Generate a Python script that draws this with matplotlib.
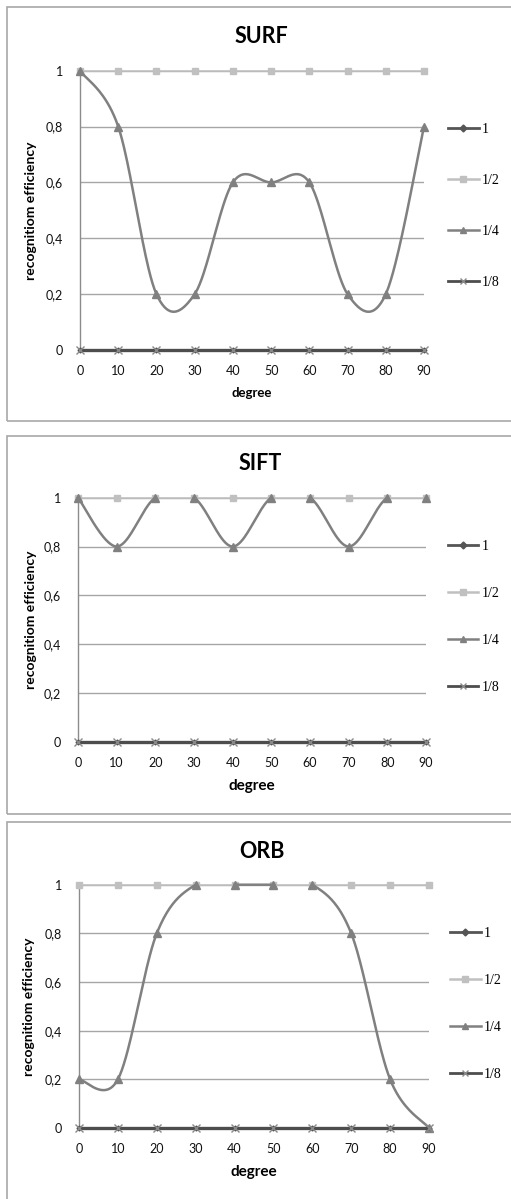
import numpy as np
import matplotlib
matplotlib.use("Agg")
import matplotlib.pyplot as plt
from matplotlib.lines import Line2D
from matplotlib.patches import Rectangle

degrees = [0, 10, 20, 30, 40, 50, 60, 70, 80, 90]
series_labels = ["1", "1/2", "1/4", "1/8"]

surf_1 = [0, 0, 0, 0, 0, 0, 0, 0, 0, 0]
surf_half = [1, 1, 1, 1, 1, 1, 1, 1, 1, 1]
surf_quarter = [1, 0.8, 0.2, 0.2, 0.6, 0.6, 0.6, 0.2, 0.2, 0.8]
surf_eighth = [0, 0, 0, 0, 0, 0, 0, 0, 0, 0]

sift_1 = [0, 0, 0, 0, 0, 0, 0, 0, 0, 0]
sift_half = [1, 1, 1, 1, 1, 1, 1, 1, 1, 1]
sift_quarter = [1, 0.8, 1, 1, 0.8, 1, 1, 0.8, 1, 1]
sift_eighth = [0, 0, 0, 0, 0, 0, 0, 0, 0, 0]

orb_1 = [0, 0, 0, 0, 0, 0, 0, 0, 0, 0]
orb_half = [1, 1, 1, 1, 1, 1, 1, 1, 1, 1]
orb_quarter = [0.2, 0.2, 0.8, 1, 1, 1, 1, 0.8, 0.2, 0]
orb_eighth = [0, 0, 0, 0, 0, 0, 0, 0, 0, 0]

yticks = [0, 0.2, 0.4, 0.6, 0.8, 1]
ytick_labels = ["0", "0,2", "0,4", "0,6", "0,8", "1"]

W, H = 511, 1199
fig = plt.figure(figsize=(W / 100, H / 100), dpi=100)
fig.patch.set_facecolor("white")

SANS = ["Lato", "DejaVu Sans"]
SERIF = ["Liberation Serif", "DejaVu Serif"]

def smooth(xs, ys, n=40, ymax=1.0):
    """Excel-like smoothed line (cubic Bezier); segments leaving the plot area are dropped."""
    xs = np.asarray(xs, float)
    ys = np.asarray(ys, float)
    px = np.concatenate([[xs[0]], xs, [xs[-1]]])
    py = np.concatenate([[ys[0]], ys, [ys[-1]]])
    outx, outy = [], []
    t = np.linspace(0, 1, n)
    for i in range(1, len(px) - 2):
        p0 = np.array([px[i], py[i]])
        p3 = np.array([px[i + 1], py[i + 1]])
        c1 = p0 + (np.array([px[i + 1], py[i + 1]]) - np.array([px[i - 1], py[i - 1]])) / 6
        c2 = p3 - (np.array([px[i + 2], py[i + 2]]) - np.array([px[i], py[i]])) / 6
        b = ((1 - t) ** 3)[:, None] * p0 + (3 * (1 - t) ** 2 * t)[:, None] * c1 \
            + (3 * (1 - t) * t ** 2)[:, None] * c2 + (t ** 3)[:, None] * p3
        if b[:, 1].max() > ymax + 1e-9:
            outx.append(np.nan)
            outy.append(np.nan)
            continue
        outx.extend(b[:, 0])
        outy.extend(b[:, 1])
    return np.array(outx), np.array(outy)

C1 = "#555555"
C2 = "#c0c0c0"
C4 = "#808080"
C8 = "#4d4d4d"

panels = [
    dict(title="SURF", data=(surf_1, surf_half, surf_quarter, surf_eighth),
         box=(7, 7, 421), ax=(80, 424, 70.7, 350),
         ylab_x=-0.125, xlab_y=-0.154, xlab_size=9.5, title_xy=(0.526, 1.124),
         leg=(1.07, 0.5156), lspace=2.75),
    dict(title="SIFT", data=(sift_1, sift_half, sift_quarter, sift_eighth),
         box=(7, 436, 814), ax=(78, 426, 497.7, 741.7),
         ylab_x=-0.118, xlab_y=-0.182, xlab_size=11, title_xy=(0.523, 1.142),
         leg=(1.063, 0.511), lspace=2.45),
    dict(title="ORB", data=(orb_1, orb_half, orb_quarter, orb_eighth),
         box=(7, 822, 1210), ax=(79, 429, 884.7, 1128),
         ylab_x=-0.126, xlab_y=-0.181, xlab_size=11, title_xy=(0.523, 1.138),
         leg=(1.06, 0.5097), lspace=2.45),
]

for p in panels:
    bx, by0, by1 = p["box"]
    fig.patches.append(Rectangle((bx / W, 1 - by1 / H), (W + 10 - bx) / W, (by1 - by0) / H,
                                 transform=fig.transFigure, fill=False,
                                 edgecolor="#a8a8a8", linewidth=1.2, zorder=0))
    l, r, t, b = p["ax"]
    ax = fig.add_axes([l / W, 1 - b / H, (r - l) / W, (b - t) / H])
    ax.set_xlim(0, 90)
    ax.set_ylim(0, 1)
    for s in ["top", "right", "bottom"]:
        ax.spines[s].set_visible(False)
    ax.spines["left"].set_color("#8c8c8c")
    ax.spines["left"].set_linewidth(1.0)
    ax.set_yticks(yticks)
    ax.set_yticklabels(ytick_labels)
    ax.set_xticks(degrees)
    ax.set_xticklabels([str(d) for d in degrees])
    ax.tick_params(length=0, labelsize=9, colors="#111111")
    ax.tick_params(axis="y", pad=12)
    ax.tick_params(axis="x", pad=11)
    for lab in ax.get_xticklabels() + ax.get_yticklabels():
        lab.set_family(SANS)
    ax.yaxis.grid(True, color="#a6a6a6", linewidth=1.0)
    ax.set_axisbelow(True)

    d1, dh, dq, de = p["data"]
    # series "1" (hidden beneath series "1/8")
    ax.plot(degrees, d1, color=C1, lw=2.0, marker="D", ms=2.5, clip_on=False, zorder=3)
    # series "1/2"
    ax.plot(degrees, dh, color=C2, lw=1.2, marker="s", ms=5, clip_on=False, zorder=4)
    # series "1/4" smoothed
    sx, sy = smooth(degrees, dq)
    ax.plot(sx, sy, color=C4, lw=1.8, clip_on=False, zorder=5)
    ax.plot(degrees, dq, ls="none", color=C4, marker="^", ms=5.5, clip_on=False, zorder=5)
    # series "1/8"
    ax.plot(degrees, de, color=C8, lw=2.4, marker="x", ms=5.5, mew=1.0,
            mec="#8a8a8a", clip_on=False, zorder=6)

    ax.set_ylabel("recognitiom efficiency", family=SANS, fontweight="bold", fontsize=10)
    ax.yaxis.set_label_coords(p["ylab_x"], 0.5)
    ax.set_xlabel("degree", family=SANS, fontweight="bold", fontsize=p["xlab_size"], va="center")
    ax.xaxis.set_label_coords(0.5, p["xlab_y"])
    ax.text(p["title_xy"][0], p["title_xy"][1], p["title"], transform=ax.transAxes,
            ha="center", va="center", family=SANS, fontweight="bold", fontsize=15.5)

    handles = [
        Line2D([], [], color=C1, lw=2.0, marker="D", ms=3.5),
        Line2D([], [], color=C2, lw=1.8, marker="s", ms=5),
        Line2D([], [], color=C4, lw=1.8, marker="^", ms=5),
        Line2D([], [], color=C8, lw=2.0, marker="x", ms=5, mec="#8a8a8a"),
    ]
    ax.legend(handles, series_labels, loc="center left",
              bbox_to_anchor=p["leg"], frameon=False, borderpad=0,
              borderaxespad=0, handlelength=2.2, handletextpad=0.25,
              labelspacing=p["lspace"], prop=dict(family=SERIF, size=10))

fig.savefig("out.png", dpi=100, facecolor="white")
